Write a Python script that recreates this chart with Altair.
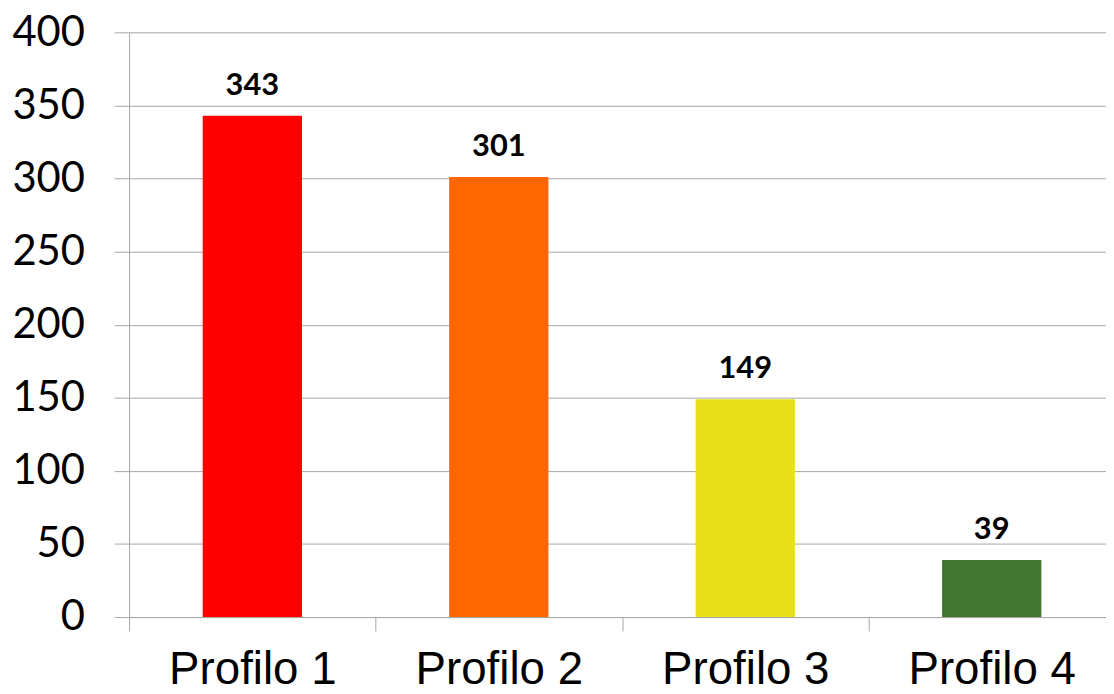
import altair as alt
import pandas as pd

categories = ["Profilo 1", "Profilo 2", "Profilo 3", "Profilo 4"]
values = [343, 301, 149, 39]
colors = ["#ff0000", "#ff6600", "#e8e11a", "#42762e"]

df = pd.DataFrame({"cat": categories, "val": values, "col": colors})

grid_col = "#a6a6a6"

x = alt.X(
    "cat:N",
    sort=categories,
    title=None,
    scale=alt.Scale(range=[0, 993], paddingInner=0, paddingOuter=0),
    axis=alt.Axis(
        labelAngle=0,
        labelFont="Liberation Sans",
        labelFontSize=46,
        labelColor="#000000",
        labelPadding=17,
        tickBand="extent",
        tickSize=14,
        tickColor=grid_col,
        domainColor=grid_col,
        grid=False,
    ),
)
y = alt.Y(
    "val:Q",
    title=None,
    scale=alt.Scale(domain=[0, 400], nice=False),
    axis=alt.Axis(
        values=[0, 50, 100, 150, 200, 250, 300, 350, 400],
        labelFont="Lato",
        labelFontSize=42,
        labelColor="#000000",
        labelPadding=30,
        tickSize=15,
        tickColor=grid_col,
        domainColor=grid_col,
        gridColor=grid_col,
        grid=True,
    ),
)

bars = alt.Chart(df).mark_bar(size=100).encode(
    x=x, y=y, color=alt.Color("col:N", scale=None)
)
labels = alt.Chart(df).mark_text(
    font="Lato", fontWeight="bold", fontSize=31, baseline="alphabetic", dy=-21, color="#000000"
).encode(x=alt.X("cat:N", sort=categories), y="val:Q", text="val:Q")

chart = (
    alt.layer(bars, labels)
    .properties(
        width=984,
        height=589,
        autosize=alt.AutoSizeParams(type="none"),
        padding={"left": 122, "top": 22, "right": 0, "bottom": 75},
    )
    .configure_view(stroke=None)
)

chart.save("out.html", embed_options={"renderer": "svg", "actions": False})
